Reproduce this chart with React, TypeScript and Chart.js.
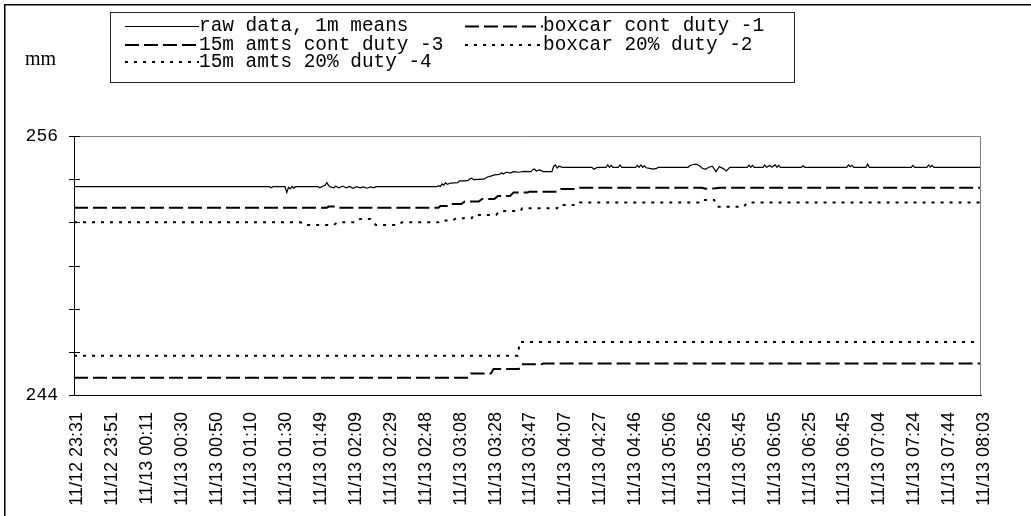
import React, { useEffect, useRef } from "react";
import { Chart, registerables } from "chart.js";

Chart.register(...registerables);

// ---------- data ----------
const xTickLabels = [
  "11/12 23:31", "11/12 23:51", "11/13 00:11", "11/13 00:30", "11/13 00:50",
  "11/13 01:10", "11/13 01:30", "11/13 01:49", "11/13 02:09", "11/13 02:29",
  "11/13 02:48", "11/13 03:08", "11/13 03:28", "11/13 03:47", "11/13 04:07",
  "11/13 04:27", "11/13 04:46", "11/13 05:06", "11/13 05:26", "11/13 05:45",
  "11/13 06:05", "11/13 06:25", "11/13 06:45", "11/13 07:04", "11/13 07:24",
  "11/13 07:44", "11/13 08:03",
];
const samplesPerLabel = 20;
const yMin = 244;
const yMax = 256;
const yStep = 2;
const yLabelValues = [244, 256];
const yUnit = "mm";

const seriesNames = [
  "raw data, 1m means",
  "boxcar cont duty -1",
  "15m amts cont duty -3",
  "boxcar 20% duty -2",
  "15m amts 20% duty -4",
];

// [sample index, mm]
const rawData: [number, number][] = [
  [0, 253.65], [112, 253.65], [113, 253.6], [114, 253.65], [121, 253.65], [122, 253.38],
  [123, 253.62], [124, 253.55], [125, 253.66], [126, 253.58], [127, 253.65], [140, 253.65],
  [141, 253.6], [142, 253.65], [144, 253.72], [145, 253.84], [146, 253.7], [147, 253.64],
  [149, 253.6], [150, 253.67], [152, 253.6], [154, 253.68], [156, 253.6], [158, 253.66],
  [160, 253.58], [162, 253.65], [164, 253.6], [166, 253.64], [168, 253.58], [170, 253.64],
  [172, 253.6], [173, 253.65], [208, 253.65], [209, 253.7], [210, 253.66], [211, 253.78],
  [212, 253.72], [213, 253.84], [214, 253.76], [216, 253.82], [220, 253.84], [221, 253.92],
  [224, 253.92], [226, 253.94], [227, 254.02], [228, 254.05], [229, 253.98], [235, 254.0],
  [237, 254.1], [239, 254.14], [241, 254.2], [244, 254.22], [245, 254.3], [246, 254.24],
  [248, 254.32], [250, 254.28], [252, 254.35], [255, 254.32], [258, 254.36], [262, 254.35],
  [263, 254.44], [264, 254.47], [265, 254.38], [267, 254.43], [269, 254.35], [274, 254.35],
  [275, 254.6], [276, 254.66], [277, 254.52], [278, 254.6], [280, 254.55], [297, 254.55],
  [298, 254.46], [299, 254.5], [300, 254.55], [305, 254.55], [306, 254.66], [307, 254.55],
  [308, 254.64], [309, 254.55], [312, 254.55], [313, 254.66], [314, 254.55], [322, 254.55],
  [323, 254.64], [324, 254.55], [325, 254.66], [326, 254.55], [327, 254.62], [328, 254.53],
  [330, 254.5], [332, 254.47], [334, 254.5], [335, 254.55], [352, 254.55], [353, 254.62],
  [355, 254.68], [357, 254.7], [359, 254.6], [360, 254.52], [362, 254.46], [364, 254.55],
  [366, 254.6], [368, 254.35], [370, 254.58], [372, 254.5], [374, 254.38], [376, 254.55],
  [386, 254.55], [387, 254.65], [388, 254.55], [389, 254.64], [390, 254.55], [395, 254.55],
  [396, 254.66], [397, 254.55], [399, 254.64], [400, 254.55], [402, 254.66], [403, 254.55],
  [404, 254.64], [405, 254.55], [417, 254.55], [418, 254.62], [419, 254.55], [443, 254.55],
  [444, 254.66], [445, 254.58], [446, 254.64], [447, 254.55], [454, 254.55], [455, 254.7],
  [456, 254.55], [480, 254.55], [481, 254.64], [482, 254.55], [489, 254.55], [490, 254.66],
  [491, 254.56], [492, 254.64], [493, 254.55], [520, 254.55],
];

const boxcarCont: [number, number][] = [
  [0, 252.68], [145, 252.68], [146, 252.73], [150, 252.73], [151, 252.68], [209, 252.68],
  [210, 252.76], [215, 252.76], [216, 252.85], [222, 252.85], [224, 252.96], [232, 252.96],
  [234, 253.08], [241, 253.08], [243, 253.22], [250, 253.22], [252, 253.38], [260, 253.38],
  [261, 253.42], [277, 253.42], [279, 253.55], [288, 253.55], [290, 253.6], [360, 253.6],
  [362, 253.56], [368, 253.58], [370, 253.6], [520, 253.6],
];

const amtsCont: [number, number][] = [
  [0, 244.8], [226, 244.8], [227.5, 245.0], [239, 245.0], [240.5, 245.2], [255, 245.2],
  [256, 245.42], [268, 245.42], [269, 245.46], [520, 245.46],
];

const boxcar20: [number, number][] = [
  [0, 252.0], [130, 252.0], [132, 251.88], [149, 251.88], [151, 252.0], [162, 252.0],
  [164, 252.16], [170, 252.16], [173, 251.88], [186, 251.88], [188, 252.0], [209, 252.0],
  [210, 252.08], [217, 252.08], [219, 252.19], [228, 252.19], [229, 252.34], [242, 252.34],
  [244, 252.52], [256, 252.52], [257, 252.65], [277, 252.65], [278, 252.8], [289, 252.8],
  [290, 252.92], [358, 252.92], [359, 253.04], [367, 253.04], [369, 252.72], [384, 252.72],
  [386, 252.92], [520, 252.92],
];

const amts20: [number, number][] = [
  [0, 245.82], [254.5, 245.82], [255.5, 246.45], [520, 246.45],
];

// ---------- styles ----------
const DASH = [14, 5];
const DOT = [3, 6];
const seriesStyles = [
  { width: 1.2, dash: [] as number[] },
  { width: 2, dash: DASH },
  { width: 2, dash: DASH },
  { width: 2, dash: DOT },
  { width: 2, dash: DOT },
];
const seriesValues = [rawData, boxcarCont, amtsCont, boxcar20, amts20];

const decorPlugin = {
  id: "decor",
  afterDraw(chart: any) {
    const ctx: CanvasRenderingContext2D = chart.ctx;
    const ca = chart.chartArea;
    ctx.save();
    // outer frame
    ctx.strokeStyle = "#000";
    ctx.lineWidth = 1.5;
    ctx.setLineDash([]);
    ctx.beginPath();
    ctx.moveTo(4.75, 2000);
    ctx.lineTo(4.75, 4.75);
    ctx.lineTo(3000, 4.75);
    ctx.stroke();

    // plot area top/right border
    ctx.strokeStyle = "#808080";
    ctx.lineWidth = 1;
    ctx.beginPath();
    ctx.moveTo(ca.left, ca.top + 0.5);
    ctx.lineTo(ca.right - 0.5, ca.top + 0.5);
    ctx.lineTo(ca.right - 0.5, ca.bottom);
    ctx.stroke();

    // y ticks crossing the axis
    const ys = chart.scales.y;
    ctx.strokeStyle = "#000";
    ys.ticks.forEach((t: any) => {
      const py = Math.round(ys.getPixelForValue(t.value)) + 0.5;
      ctx.beginPath();
      ctx.moveTo(ca.left - 5, py);
      ctx.lineTo(ca.left + 6, py);
      ctx.stroke();
    });

    // unit label
    ctx.fillStyle = "#000";
    ctx.font = '20px "Liberation Serif"';
    ctx.textAlign = "left";
    ctx.textBaseline = "alphabetic";
    ctx.fillText(yUnit, 25, 65);

    // legend box
    const bx = 110.5, by = 12.5, bw = 684, bh = 70;
    ctx.fillStyle = "#fff";
    ctx.fillRect(bx, by, bw, bh);
    ctx.strokeStyle = "#222";
    ctx.lineWidth = 1;
    ctx.strokeRect(bx, by, bw, bh);

    const colLine = [[125, 199], [465, 543]];
    const rowLineY = [26.5, 45, 62];
    const rowText = [31, 49.5, 66.5];
    ctx.font = '19.4px "Liberation Mono"';
    chart.data.datasets.forEach((ds: any, i: number) => {
      const col = i % 2;
      const row = Math.floor(i / 2);
      const [x1, x2] = colLine[col];
      ctx.strokeStyle = "#000";
      ctx.lineWidth = ds.borderWidth;
      ctx.setLineDash(ds.borderDash || []);
      ctx.beginPath();
      ctx.moveTo(x1, rowLineY[row]);
      ctx.lineTo(x2, rowLineY[row]);
      ctx.stroke();
      ctx.setLineDash([]);
      ctx.fillStyle = "#000";
      ctx.fillText(ds.label, x2, rowText[row]);
    });
    ctx.restore();
  },
};

export default function App() {
  const ref = useRef<HTMLCanvasElement>(null);
  useEffect(() => {
    if (!ref.current) return;
    const chart = new Chart(ref.current, {
      type: "line",
      data: {
        datasets: seriesValues.map((vals, i) => ({
          label: seriesNames[i],
          data: vals.map(([x, y]) => ({ x, y })),
          borderColor: "#000",
          backgroundColor: "#000",
          borderWidth: seriesStyles[i].width,
          borderDash: seriesStyles[i].dash,
          pointRadius: 0,
          tension: 0,
          fill: false,
        })),
      },
      options: {
        responsive: false,
        maintainAspectRatio: false,
        animation: false,
        devicePixelRatio: 1,
        layout: { padding: { top: 136, right: 50, left: 0, bottom: 0 } },
        plugins: {
          legend: { display: false },
          tooltip: { enabled: false },
          title: { display: false },
        },
        scales: {
          x: {
            type: "linear",
            min: 0,
            max: samplesPerLabel * (xTickLabels.length - 1),
            grid: { display: false, drawTicks: false },
            border: { display: true, color: "#000", width: 1 },
            afterFit: (s: any) => { s.height = 121; },
            ticks: {
              stepSize: samplesPerLabel,
              autoSkip: false,
              minRotation: 90,
              maxRotation: 90,
              padding: 17,
              labelOffset: 3,
              color: "#000",
              font: { family: '"Liberation Sans", Arial, sans-serif', size: 18 },
              callback: (v: any) => {
                const idx = Math.round(Number(v) / samplesPerLabel);
                return xTickLabels[idx] ?? "";
              },
            },
          },
          y: {
            type: "linear",
            min: yMin,
            max: yMax,
            grid: { display: false, drawTicks: false },
            border: { display: true, color: "#000", width: 1 },
            afterFit: (s: any) => { s.width = 74; },
            ticks: {
              stepSize: yStep,
              padding: 16,
              color: "#000",
              font: { family: '"Liberation Mono", "Courier New", monospace', size: 18 },
              callback: (v: any) => (yLabelValues.includes(Number(v)) ? String(v) : ""),
            },
          },
        },
      },
      plugins: [decorPlugin],
    } as any);
    return () => chart.destroy();
  }, []);
  return (
    <div style={{ position: "fixed", left: 0, top: 0, width: 1031, height: 516, background: "#fff" }}>
      <canvas ref={ref} width={1031} height={516} style={{ display: "block" }} />
    </div>
  );
}
